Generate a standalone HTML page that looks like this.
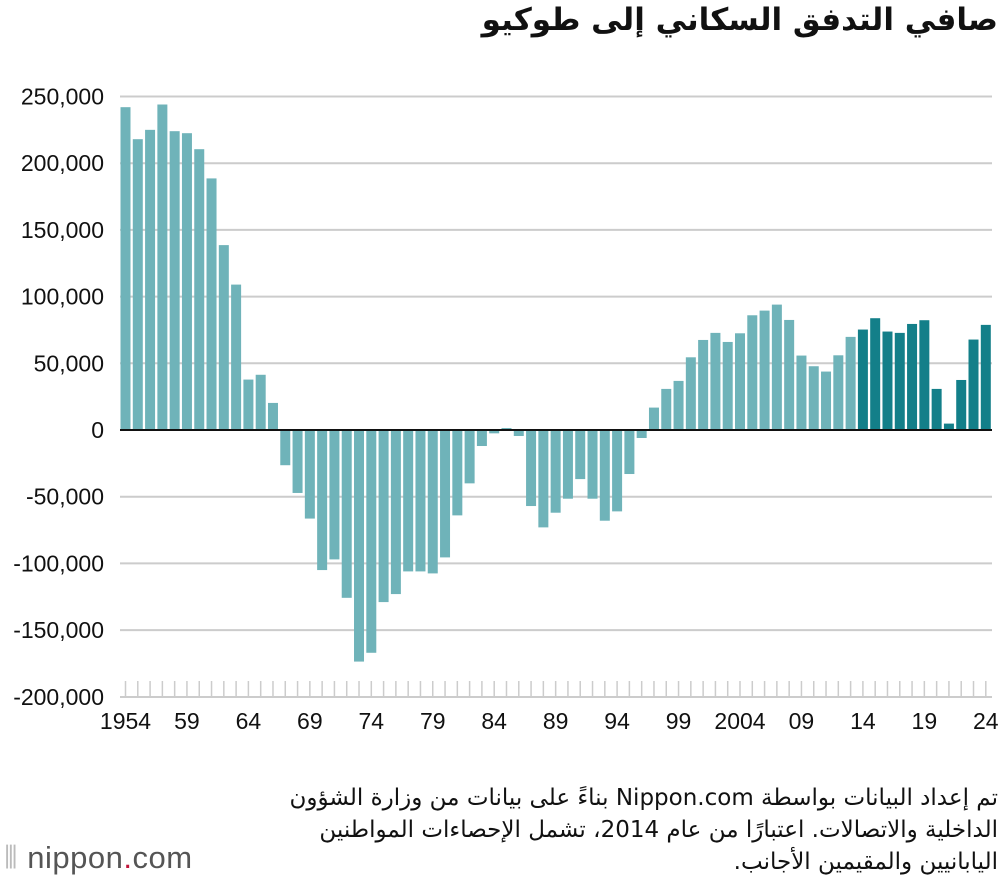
<!DOCTYPE html>
<html lang="ar"><head><meta charset="utf-8">
<style>
body{margin:0;width:1000px;height:886px;background:#fff;overflow:hidden;font-family:"Liberation Sans","Noto Sans CJK SC",sans-serif;position:relative}
.title{position:absolute;right:2px;top:2px;font-size:31px;font-weight:bold;direction:rtl;color:#111;font-family:"DejaVu Sans","Liberation Sans",sans-serif}
.note{position:absolute;right:2px;top:782px;width:760px;direction:rtl;text-align:right;font-size:23px;line-height:32px;color:#111;font-family:"DejaVu Sans","Liberation Sans",sans-serif;white-space:nowrap}
.logo{position:absolute;left:4px;top:840px;font-size:31px;color:#555;letter-spacing:0.5px}
.logo b{color:#c0163a;font-weight:normal}
svg{position:absolute;left:0;top:0}
</style></head><body>
<div class="title">صافي التدفق السكاني إلى طوكيو</div>
<svg id="chart" width="1000" height="760"></svg>
<div class="note">تم إعداد البيانات بواسطة Nippon.com بناءً على بيانات من وزارة الشؤون<br>الداخلية والاتصالات. اعتبارًا من عام 2014، تشمل الإحصاءات المواطنين<br>اليابانيين والمقيمين الأجانب.</div>
<div class="logo"><span style="color:#bbb">⦀</span> nippon<b>.</b>com</div>
<script>
const years=[];for(let y=1954;y<=2024;y++)years.push(y);
const values=[242000,218000,225000,244000,224000,222500,210500,188600,138600,109000,37800,41400,20300,-26400,-47200,-66400,-105000,-97000,-125800,-173600,-167000,-129000,-123000,-106000,-106000,-107500,-95500,-64000,-40000,-12000,-2500,1500,-4500,-57000,-73000,-62000,-51500,-36800,-51500,-68000,-61000,-33000,-6000,16800,30800,36800,54500,67500,72800,66000,72500,86000,89500,94000,82500,55800,47800,43800,56000,69800,75300,83800,73800,72800,79500,82300,30800,4800,37500,67800,78800];
const yTicks=[250000,200000,150000,100000,50000,0,-50000,-100000,-150000,-200000];
const xLabels=["1954","59","64","69","74","79","84","89","94","99","2004","09","14","19","24"];
const NS="http://www.w3.org/2000/svg",svg=document.getElementById('chart');
const y0=430,perUnit=66.7/50000,x0=125.5,pitch=12.29;
const Y=v=>y0-v*perUnit, X=i=>x0+i*pitch;
function el(t,a){const e=document.createElementNS(NS,t);for(const k in a)e.setAttribute(k,a[k]);svg.appendChild(e);return e;}
yTicks.forEach(t=>{
 if(t!==0&&t!==-200000){const g=el('line',{x1:120,x2:992,y1:Y(t),y2:Y(t),stroke:'#ccc','stroke-width':2});
 
 }
 const l=el('text',{x:104,y:Y(t)+8,'text-anchor':'end','font-size':23,fill:'#111'});
 l.textContent=t.toLocaleString('en-US');
 
 
});
const base=el('line',{x1:120,x2:992,y1:697,y2:697,stroke:'#ccc','stroke-width':2});


years.forEach((yr,i)=>{
 const tk=el('line',{x1:X(i),x2:X(i),y1:681,y2:696,stroke:'#ccc','stroke-width':1.5});
 
 
 const v=values[i];
 const r=el('rect',{x:X(i)-5,width:10,y:Math.min(Y(v),y0),height:Math.abs(Y(v)-y0),fill:yr>=2014?'#137f89':'#6fb3b9'});
 
 
});
xLabels.forEach((lab,k)=>{
 const t=el('text',{x:X(k*5),y:729,'text-anchor':'middle','font-size':23,fill:'#111'});
 t.textContent=lab;
 
 
});
const z=el('line',{x1:120,x2:992,y1:y0,y2:y0,stroke:'#111','stroke-width':2});


</script>
</body></html>
